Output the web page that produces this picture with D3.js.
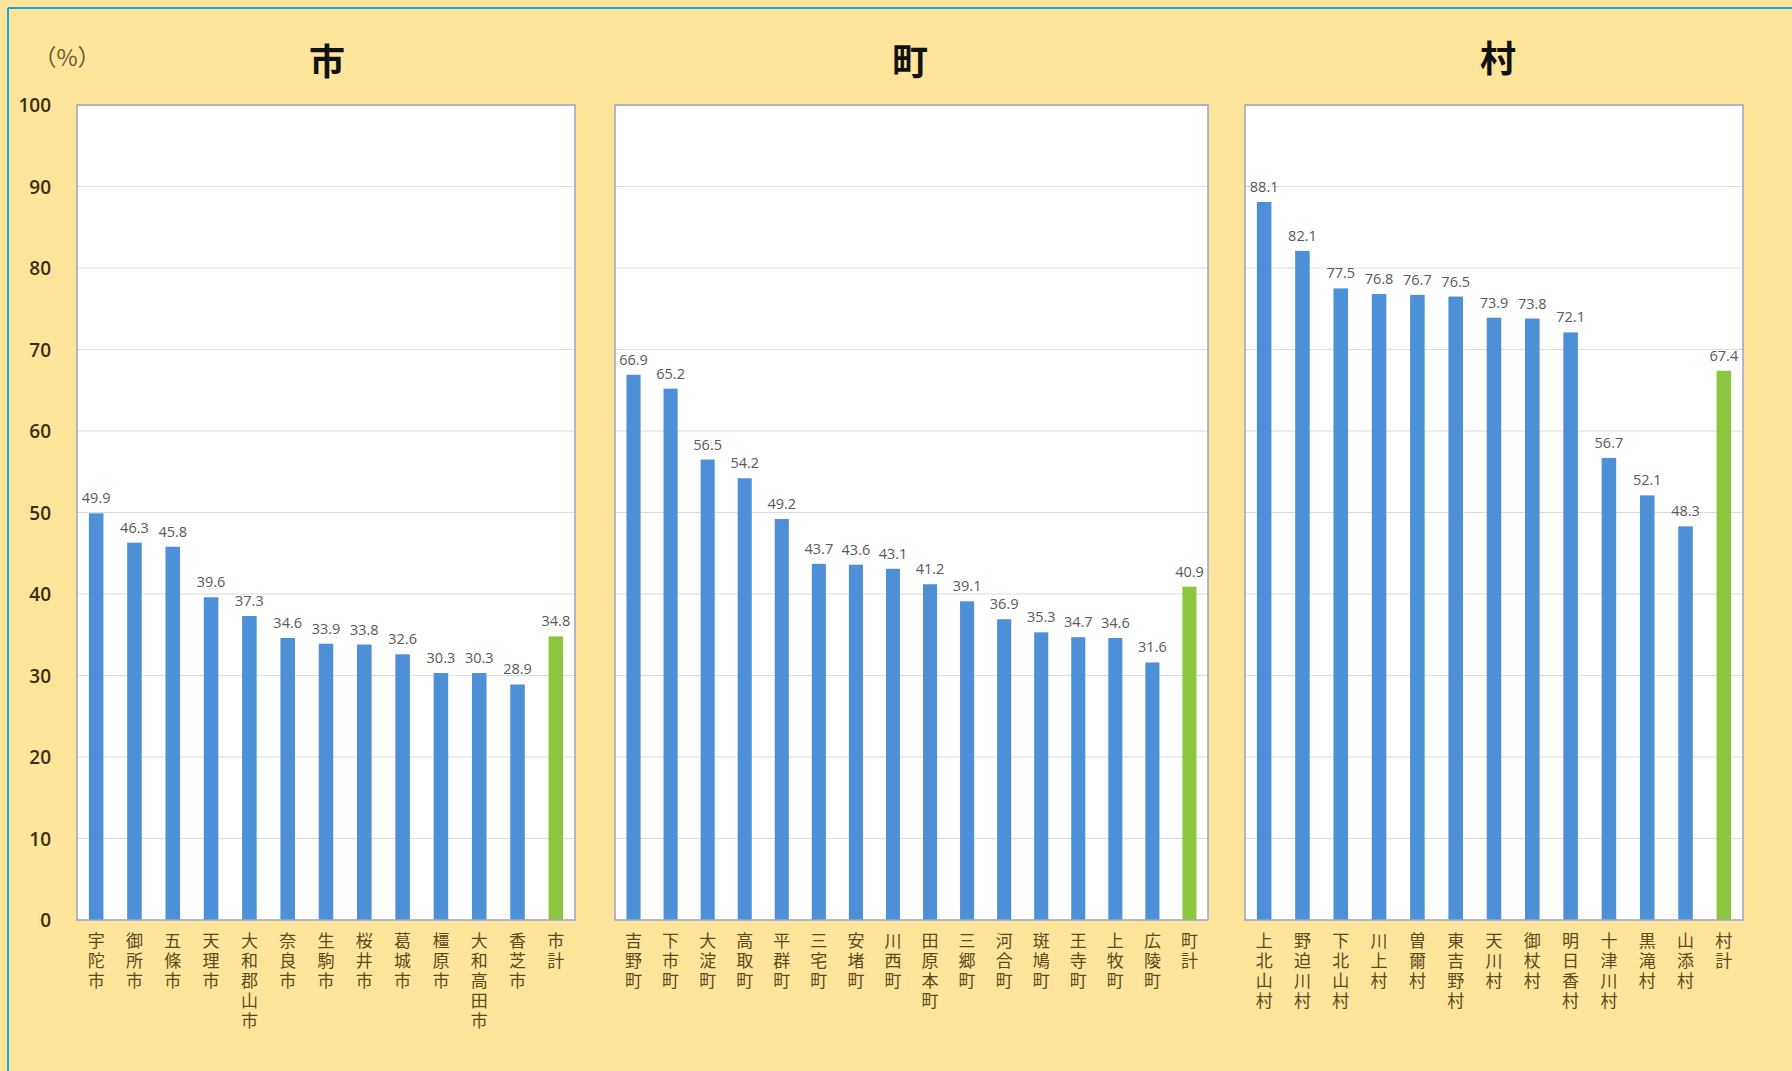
<!DOCTYPE html>
<html><head><meta charset="utf-8">
<script src="https://cdn.jsdelivr.net/npm/d3@7"></script>
<style>
html,body{margin:0;padding:0;background:#fee59b;}
svg{display:block;}
</style></head>
<body>
<script>
const cityNames = ["宇陀市","御所市","五條市","天理市","大和郡山市","奈良市","生駒市","桜井市","葛城市","橿原市","大和高田市","香芝市","市計"];
const cityValues = [49.9,46.3,45.8,39.6,37.3,34.6,33.9,33.8,32.6,30.3,30.3,28.9,34.8];
const townNames = ["吉野町","下市町","大淀町","高取町","平群町","三宅町","安堵町","川西町","田原本町","三郷町","河合町","斑鳩町","王寺町","上牧町","広陵町","町計"];
const townValues = [66.9,65.2,56.5,54.2,49.2,43.7,43.6,43.1,41.2,39.1,36.9,35.3,34.7,34.6,31.6,40.9];
const villageNames = ["上北山村","野迫川村","下北山村","川上村","曽爾村","東吉野村","天川村","御杖村","明日香村","十津川村","黒滝村","山添村","村計"];
const villageValues = [88.1,82.1,77.5,76.8,76.7,76.5,73.9,73.8,72.1,56.7,52.1,48.3,67.4];
const panelTitles = ["市","町","村"];
const yTicks = [0,10,20,30,40,50,60,70,80,90,100];

(function(){
const W = 1792, H = 1071;
const svg = d3.select("body").append("svg").attr("width", W).attr("height", H);
svg.append("rect").attr("width", W).attr("height", H).attr("fill", "#fee59b");
svg.append("line").attr("x1",8).attr("x2",W).attr("y1",8).attr("y2",8).attr("stroke","#1aa7e0").attr("stroke-width",2);
svg.append("line").attr("x1",8).attr("x2",8).attr("y1",8).attr("y2",H).attr("stroke","#1aa7e0").attr("stroke-width",2);

const font = "'Noto Sans CJK JP', 'Noto Sans', sans-serif";
const plotTop = 105, plotBottom = 920;
const y = d3.scaleLinear().domain([0,100]).range([plotBottom, plotTop]);

const panels = [
  {names: cityNames, values: cityValues, x0: 77, x1: 575, tx: 327, ty: 75},
  {names: townNames, values: townValues, x0: 615, x1: 1208, tx: 910, ty: 75},
  {names: villageNames, values: villageValues, x0: 1245, x1: 1743, tx: 1498, ty: 72}
];

panels.forEach((p, pi) => {
  const g = svg.append("g");
  g.append("rect").attr("x", p.x0).attr("y", plotTop).attr("width", p.x1 - p.x0).attr("height", plotBottom - plotTop)
    .attr("fill", "#ffffff");
  g.selectAll("line.grid").data(yTicks.slice(1)).join("line")
    .attr("x1", p.x0).attr("x2", p.x1).attr("y1", d => y(d)).attr("y2", d => y(d))
    .attr("stroke", "#dcdcdc").attr("stroke-width", 1);
  const x = d3.scaleBand().domain(p.names).range([p.x0, p.x1]).paddingInner(0.62).paddingOuter(0.31);
  const last = p.names.length - 1;
  g.selectAll("rect.bar").data(p.values).join("rect")
    .attr("x", (d,i) => x(p.names[i])).attr("width", x.bandwidth())
    .attr("y", d => y(d)).attr("height", d => plotBottom - y(d))
    .attr("fill", (d,i) => i === last ? "#8cc540" : "#4e90d8");
  g.selectAll("text.val").data(p.values).join("text")
    .attr("x", (d,i) => x(p.names[i]) + x.bandwidth()/2).attr("y", d => y(d) - 10)
    .attr("text-anchor", "middle").attr("font-family", "'Open Sans', 'Noto Sans', sans-serif").attr("font-size", 14.5)
    .attr("fill", "#595959").text(d => d.toFixed(1));
  g.append("rect").attr("x", p.x0).attr("y", plotTop).attr("width", p.x1 - p.x0).attr("height", plotBottom - plotTop)
    .attr("fill", "none").attr("stroke", "#9aa3c8").attr("stroke-width", 1.5);
  p.names.forEach((n) => {
    const cx = x(n) + x.bandwidth()/2;
    const t = g.append("text").attr("font-family", font).attr("font-size", 17).attr("fill", "#5a4a20")
      .attr("text-anchor", "middle");
    Array.from(n).forEach((ch, k) => {
      t.append("tspan").attr("x", cx).attr("y", 947 + k * 20).text(ch);
    });
  });
  svg.append("text").attr("x", p.tx).attr("y", p.ty).attr("text-anchor", "middle")
    .attr("font-family", font).attr("font-weight", "bold").attr("font-size", 36).attr("fill", "#111")
    .text(panelTitles[pi]);
});

svg.selectAll("text.ytick").data(yTicks).join("text")
  .attr("x", 51).attr("y", d => y(d) + 7).attr("text-anchor", "end")
  .attr("font-family", "'Open Sans', sans-serif").attr("font-weight", 600).attr("font-size", 19).attr("fill", "#3a2e10").text(d => d);
svg.append("text").attr("x", 67).attr("y", 66).attr("text-anchor", "middle")
  .attr("font-family", font).attr("font-size", 23).attr("fill", "#6b5a30").text("（%）");
})();
</script>
</body></html>
